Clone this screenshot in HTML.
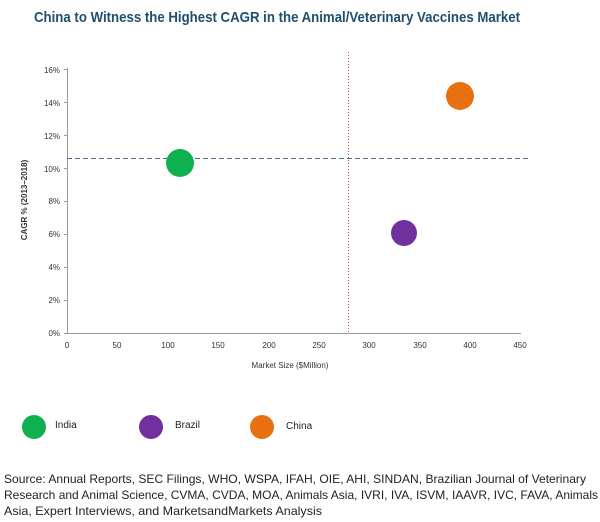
<!DOCTYPE html>
<html><head><style>
body{margin:0;background:#fff;width:600px;height:522px;overflow:hidden;font-family:"Liberation Sans",sans-serif}
</style></head><body>
<svg width="600" height="522" xmlns="http://www.w3.org/2000/svg" style="position:absolute;left:0;top:0">
<text x="34" y="22" font-size="15" font-weight="bold" fill="#1f4e6e" textLength="486" lengthAdjust="spacingAndGlyphs" font-family="Liberation Sans Narrow, Liberation Sans, sans-serif">China to Witness the Highest CAGR in the Animal/Veterinary Vaccines Market</text>
<g stroke="#999" stroke-width="1">
<line x1="67.5" y1="68" x2="67.5" y2="333"/>
<line x1="67" y1="333.5" x2="521" y2="333.5"/>
</g>
<g font-size="8" fill="#333" text-anchor="end">
<text x="60" y="336">0%</text><text x="60" y="303">2%</text><text x="60" y="270">4%</text><text x="60" y="237">6%</text><text x="60" y="204">8%</text><text x="60" y="172">10%</text><text x="60" y="139">12%</text><text x="60" y="106">14%</text><text x="60" y="73">16%</text>
</g>
<g stroke="#999"><line x1="64" y1="333.5" x2="67" y2="333.5"/><line x1="64" y1="300.5" x2="67" y2="300.5"/><line x1="64" y1="267.5" x2="67" y2="267.5"/><line x1="64" y1="234.5" x2="67" y2="234.5"/><line x1="64" y1="201.5" x2="67" y2="201.5"/><line x1="64" y1="168.5" x2="67" y2="168.5"/><line x1="64" y1="135.5" x2="67" y2="135.5"/><line x1="64" y1="102.5" x2="67" y2="102.5"/><line x1="64" y1="69.5" x2="67" y2="69.5"/></g>
<g font-size="8" fill="#333" text-anchor="middle">
<text x="67" y="348">0</text><text x="117" y="348">50</text><text x="168" y="348">100</text><text x="218" y="348">150</text><text x="269" y="348">200</text><text x="319" y="348">250</text><text x="369" y="348">300</text><text x="420" y="348">350</text><text x="470" y="348">400</text><text x="520" y="348">450</text>
</g>
<text x="290" y="368" font-size="8" fill="#333" text-anchor="middle">Market Size ($Million)</text>
<text transform="translate(27,200) rotate(-90)" font-size="8" font-weight="bold" fill="#333" text-anchor="middle">CAGR % (2013–2018)</text>
<line x1="348.5" y1="52" x2="348.5" y2="333" stroke="#c0504d" stroke-width="1" stroke-dasharray="1,2"/>
<line x1="67" y1="158.5" x2="531" y2="158.5" stroke="#4f6a8f" stroke-width="1" stroke-dasharray="5,3"/>
<circle cx="180" cy="163" r="14" fill="#0fb050"/>
<circle cx="404" cy="233" r="13" fill="#7030a0"/>
<circle cx="460" cy="96" r="14" fill="#e8700f"/>
<circle cx="34" cy="427" r="12" fill="#0fb050"/>
<circle cx="151" cy="427" r="12" fill="#7030a0"/>
<circle cx="262" cy="427" r="12" fill="#e8700f"/>
<g font-size="10" fill="#222"><text x="55" y="428">India</text><text x="175" y="428">Brazil</text><text x="286" y="429">China</text></g>
<g font-size="12" fill="#222">
<text x="4" y="483" textLength="582" lengthAdjust="spacingAndGlyphs">Source: Annual Reports, SEC Filings, WHO, WSPA, IFAH, OIE, AHI, SINDAN, Brazilian Journal of Veterinary</text>
<text x="4" y="499" textLength="594" lengthAdjust="spacingAndGlyphs">Research and Animal Science, CVMA, CVDA, MOA, Animals Asia, IVRI, IVA, ISVM, IAAVR, IVC, FAVA, Animals</text>
<text x="4" y="515" textLength="318" lengthAdjust="spacingAndGlyphs">Asia, Expert Interviews, and MarketsandMarkets Analysis</text>
</g>
</svg>
</body></html>
